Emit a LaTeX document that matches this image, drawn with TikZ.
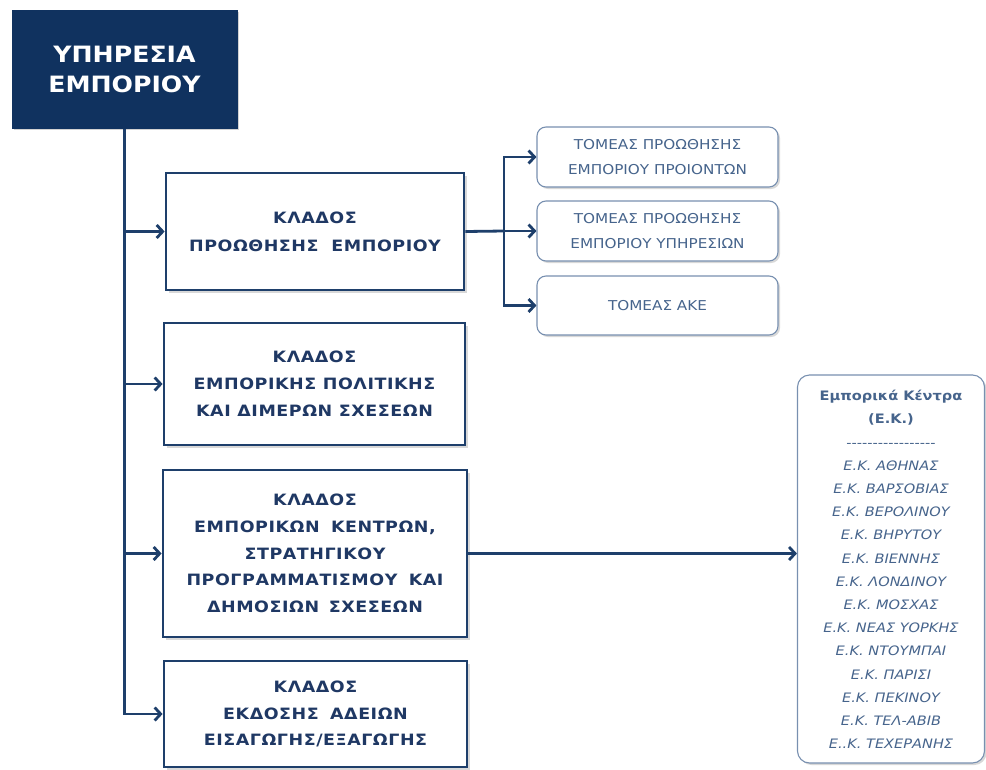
\documentclass[tikz,border=0pt]{standalone}
\usepackage{fontspec}
\setmainfont{DejaVu Sans}[FakeStretch=1.12]
\usetikzlibrary{arrows.meta,shadows}
\definecolor{navy}{HTML}{10325F}
\definecolor{boxline}{HTML}{1E3F6B}
\definecolor{boxtext}{HTML}{1F3864}
\definecolor{subline}{HTML}{7890B0}
\definecolor{subtext}{HTML}{46648C}
\tikzset{
  topbox/.style={draw=navy, fill=navy, line width=1pt, text=white, align=center, inner sep=0pt,
    font=\bfseries\fontsize{22.5}{30}\selectfont,
    drop shadow={shadow xshift=2pt, shadow yshift=-2pt, opacity=0.35}},
  kbox/.style={draw=boxline, fill=white, line width=2.8pt, text=boxtext, align=center, inner sep=0pt,
    font=\bfseries\fontsize{15.6}{26.8}\selectfont\addfontfeatures{LetterSpace=3.5},
    drop shadow={shadow xshift=2.5pt, shadow yshift=-2.5pt, opacity=0.3}},
  sbox/.style={draw=subline, fill=white, line width=1.1pt, rounded corners=9pt, text=subtext, align=center, inner sep=0pt,
    font=\fontsize{13.6}{25}\selectfont,
    drop shadow={shadow xshift=2pt, shadow yshift=-2pt, opacity=0.3}},
  ekbox/.style={draw=subline, fill=white, line width=1.1pt, rounded corners=12pt, inner sep=0pt,
    drop shadow={shadow xshift=2pt, shadow yshift=-2pt, opacity=0.3}},
  ektext/.style={text=subtext, align=center, inner sep=0pt, font=\fontsize{13}{23.2}\selectfont},
  conn/.style={draw=boxline, line width=2.8pt},
  arr/.style={conn, -{Straight Barb[length=6pt,width=13pt,line width=2.8pt]}},
}
\begin{document}
\begin{tikzpicture}[x=1pt,y=-1pt]
\useasboundingbox (0,0) rectangle (986,769);
\fill[white] (0,0) rectangle (986,769);

\node[topbox, minimum width=225, minimum height=118] (top) at (124.5,69) {ΥΠΗΡΕΣΙΑ\\ΕΜΠΟΡΙΟΥ};

\node[kbox, minimum width=298, minimum height=117] (k1) at (315,231.5) {ΚΛΑΔΟΣ\\[1.5pt]ΠΡΟΩΘΗΣΗΣ\hspace{0.4em} ΕΜΠΟΡΙΟΥ};
\node[kbox, minimum width=301, minimum height=122] (k2) at (314.5,384) {ΚΛΑΔΟΣ\\ΕΜΠΟΡΙΚΗΣ ΠΟΛΙΤΙΚΗΣ\\ΚΑΙ ΔΙΜΕΡΩΝ ΣΧΕΣΕΩΝ};
\node[kbox, minimum width=304, minimum height=167] (k3) at (315,553.5) {ΚΛΑΔΟΣ\\ΕΜΠΟΡΙΚΩΝ\hspace{0.3em} ΚΕΝΤΡΩΝ,\\ΣΤΡΑΤΗΓΙΚΟΥ\\ΠΡΟΓΡΑΜΜΑΤΙΣΜΟΥ\hspace{0.3em} ΚΑΙ\\ΔΗΜΟΣΙΩΝ\hspace{0.2em} ΣΧΕΣΕΩΝ};
\node[kbox, minimum width=303, minimum height=106] (k4) at (315.5,714) {ΚΛΑΔΟΣ\\ΕΚΔΟΣΗΣ\hspace{0.3em} ΑΔΕΙΩΝ\\ΕΙΣΑΓΩΓΗΣ/ΕΞΑΓΩΓΗΣ};

\node[sbox, minimum width=241, minimum height=60] (s1) at (657.5,157) {ΤΟΜΕΑΣ ΠΡΟΩΘΗΣΗΣ\\ΕΜΠΟΡΙΟΥ ΠΡΟΙΟΝΤΩΝ};
\node[sbox, minimum width=241, minimum height=60] (s2) at (657.5,231) {ΤΟΜΕΑΣ ΠΡΟΩΘΗΣΗΣ\\ΕΜΠΟΡΙΟΥ ΥΠΗΡΕΣΙΩΝ};
\node[sbox, minimum width=241, minimum height=59] (s3) at (657.5,305.5) {ΤΟΜΕΑΣ ΑΚΕ};

\node[ekbox, minimum width=187, minimum height=388] (ek) at (891,569) {};
\node[ektext, anchor=north] (ekt) at (891,390) {{\bfseries Εμπορικά Κέντρα}\\{\bfseries (Ε.Κ.)}\\-{}-{}-{}-{}-{}-{}-{}-{}-{}-{}-{}-{}-{}-{}-{}-{}-\\\itshape Ε.Κ. ΑΘΗΝΑΣ\\\itshape Ε.Κ. ΒΑΡΣΟΒΙΑΣ\\\itshape Ε.Κ. ΒΕΡΟΛΙΝΟΥ\\\itshape Ε.Κ. ΒΗΡΥΤΟΥ\\\itshape Ε.Κ. ΒΙΕΝΝΗΣ\\\itshape Ε.Κ. ΛΟΝΔΙΝΟΥ\\\itshape Ε.Κ. ΜΟΣΧΑΣ\\\itshape Ε.Κ. ΝΕΑΣ ΥΟΡΚΗΣ\\\itshape Ε.Κ. ΝΤΟΥΜΠΑΙ\\\itshape Ε.Κ. ΠΑΡΙΣΙ\\\itshape Ε.Κ. ΠΕΚΙΝΟΥ\\\itshape Ε.Κ. ΤΕΛ-ΑΒΙΒ\\\itshape Ε..Κ. ΤΕΧΕΡΑΝΗΣ};

% trunk
\draw[arr] (top.south) |- (k4.west);
\draw[arr] (top.south |- k1.west) -- (k1.west);
\draw[arr] (top.south |- k2.west) -- (k2.west);
\draw[arr] (top.south |- k3.west) -- (k3.west);

% branch to sectors
\coordinate (br) at (504,231);
\draw[conn] (k1.east) -- (br);
\draw[arr] (br) |- (s1.west);
\draw[arr] (br) -- (s2.west);
\draw[arr] (br) |- (s3.west);

% to trade centers
\draw[arr] (k3.east) -- (k3.east -| ek.west);
\end{tikzpicture}
\end{document}
